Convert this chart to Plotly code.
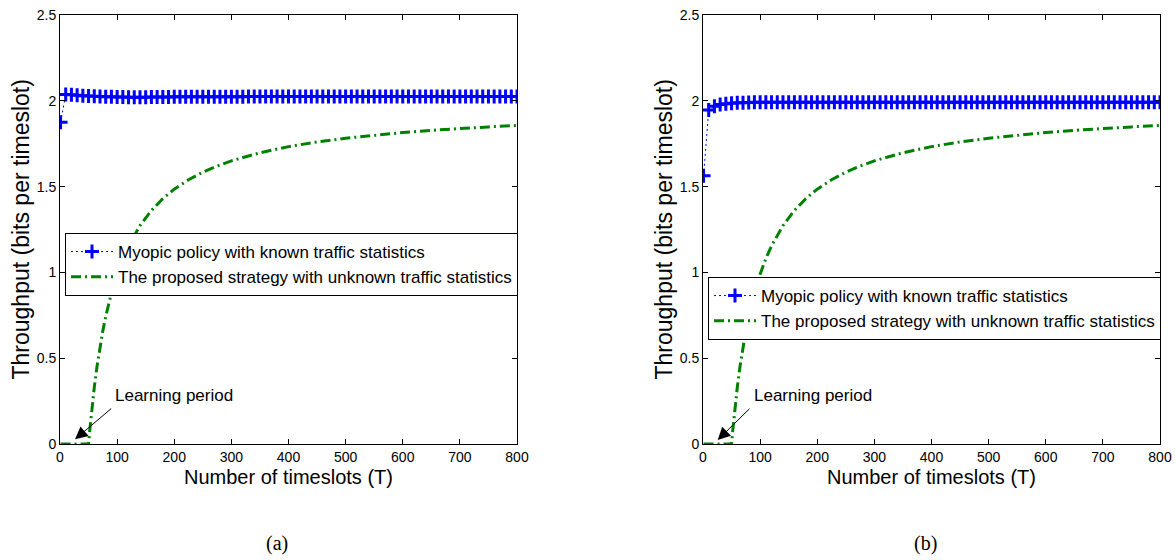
import plotly.graph_objects as go

# ---------------- data ----------------
T_myopic = [1] + list(range(10, 801, 10))

myopic_a = [1.875,
    2.036, 2.035, 2.032, 2.030, 2.028, 2.026, 2.025, 2.024, 2.023, 2.022,
    2.022, 2.021, 2.021, 2.021, 2.021, 2.022, 2.022, 2.022, 2.022, 2.023,
    2.023, 2.023, 2.023, 2.023, 2.024, 2.024, 2.024, 2.024, 2.024, 2.024,
    2.024, 2.024, 2.025, 2.025, 2.025, 2.025, 2.025, 2.025, 2.025, 2.025,
    2.025, 2.025, 2.025, 2.025, 2.025, 2.025, 2.025, 2.025, 2.025, 2.025,
    2.025, 2.025, 2.025, 2.025, 2.025, 2.025, 2.025, 2.025, 2.025, 2.025,
    2.025, 2.025, 2.025, 2.025, 2.025, 2.025, 2.025, 2.025, 2.025, 2.025,
    2.025, 2.025, 2.025, 2.025, 2.025, 2.025, 2.025, 2.025, 2.025, 2.025]

myopic_b = [1.563,
    1.946, 1.968, 1.978, 1.983, 1.986, 1.988, 1.989, 1.990, 1.991, 1.991,
    1.991, 1.992, 1.992, 1.992, 1.992, 1.992, 1.992, 1.992, 1.992, 1.992,
    1.992, 1.992, 1.992, 1.992, 1.992, 1.992, 1.992, 1.992, 1.992, 1.992,
    1.992, 1.992, 1.992, 1.992, 1.992, 1.992, 1.992, 1.992, 1.992, 1.992,
    1.992, 1.992, 1.992, 1.992, 1.992, 1.992, 1.992, 1.992, 1.992, 1.992,
    1.992, 1.992, 1.992, 1.992, 1.992, 1.992, 1.992, 1.992, 1.992, 1.992,
    1.992, 1.992, 1.992, 1.992, 1.992, 1.992, 1.992, 1.992, 1.992, 1.992,
    1.992, 1.992, 1.992, 1.992, 1.992, 1.992, 1.992, 1.992, 1.992, 1.992]

T_proposed = [1, 10, 20, 30, 40, 50, 52, 55, 60, 65, 70, 75, 80, 90, 100, 110,
              120, 140, 160, 180, 200, 225, 250, 275, 300, 350, 400, 450, 500,
              550, 600, 650, 700, 750, 800]
proposed = [0, 0, 0, 0, 0, 0, 0.076, 0.18, 0.33, 0.457, 0.566, 0.66, 0.743,
            0.88, 0.99, 1.08, 1.155, 1.273, 1.361, 1.43, 1.485, 1.54, 1.584,
            1.62, 1.65, 1.697, 1.733, 1.76, 1.782, 1.80, 1.815, 1.828, 1.839,
            1.848, 1.856]

name_myopic = "Myopic policy with known traffic statistics"
name_proposed = "The proposed strategy with unknown traffic statistics"
x_ticks = [0, 100, 200, 300, 400, 500, 600, 700, 800]
y_ticks = [0, 0.5, 1, 1.5, 2, 2.5]
y_ticklabels = ["0", "0.5", "1", "1.5", "2", "2.5"]
x_title = "Number of timeslots (T)"
y_title = "Throughput (bits per timeslot)"
captions = ["(a)", "(b)"]
note = "Learning period"

# ---------------- figure ----------------
W, H = 1175, 560
BLUE = "#0000FF"
GREEN = "#008000"
FONT = "Liberation Sans, Arial, sans-serif"

fig = go.Figure()

for i, (myo, leg) in enumerate([(myopic_a, "legend"), (myopic_b, "legend2")]):
    xa = "x" if i == 0 else "x2"
    ya = "y" if i == 0 else "y2"
    fig.add_trace(go.Scatter(
        x=T_myopic, y=myo, name=name_myopic, mode="lines+markers",
        line=dict(color=BLUE, width=1, dash="2px,3px"),
        marker=dict(symbol="cross-thin", size=10, color=BLUE,
                    line=dict(color=BLUE, width=3)),
        xaxis=xa, yaxis=ya, legend=leg, cliponaxis=True))
    fig.add_trace(go.Scatter(
        x=T_proposed, y=proposed, name=name_proposed, mode="lines",
        line=dict(color=GREEN, width=3, dash="10px,4px,2px,4px"),
        xaxis=xa, yaxis=ya, legend=leg))

ydom = [116 / H, 545 / H]
xdoms = [[60 / W, 517 / W], [703 / W, 1160 / W]]

axis_common = dict(showline=True, linecolor="black", linewidth=1,
                   mirror="ticks", ticks="inside", ticklen=5,
                   tickcolor="black", showgrid=False, zeroline=False,
                   tickfont=dict(family=FONT, size=14, color="black"),
                   automargin=False)

fig.update_layout(
    width=W, height=H,
    margin=dict(l=0, r=0, t=0, b=0),
    paper_bgcolor="white", plot_bgcolor="white",
    font=dict(family=FONT, color="black"),
    xaxis=dict(domain=xdoms[0], range=[0, 800], tickvals=x_ticks,
               anchor="y", **axis_common),
    yaxis=dict(domain=ydom, range=[0, 2.5], tickvals=y_ticks,
               ticktext=y_ticklabels, anchor="x", **axis_common),
    xaxis2=dict(domain=xdoms[1], range=[0, 800], tickvals=x_ticks,
                anchor="y2", **axis_common),
    yaxis2=dict(domain=ydom, range=[0, 2.5], tickvals=y_ticks,
                ticktext=y_ticklabels, anchor="x2", **axis_common),
    legend=dict(x=65 / W, y=1 - 233 / H, xanchor="left", yanchor="top",
                bgcolor="white", bordercolor="black", borderwidth=1,
                font=dict(family=FONT, size=17, color="black"),
                itemwidth=42, tracegroupgap=0),
    legend2=dict(x=708 / W, y=1 - 277 / H, xanchor="left", yanchor="top",
                 bgcolor="white", bordercolor="black", borderwidth=1,
                 font=dict(family=FONT, size=17, color="black"),
                 itemwidth=42, tracegroupgap=0),
    showlegend=True,
)

annotations = []
centers = [(60 + 517) / 2, (703 + 1160) / 2]
ytitle_x = [20, 663]
for i in range(2):
    cx = centers[i]
    annotations.append(dict(xref="paper", yref="paper", x=cx / W, y=1 - 477 / H,
                            text=x_title, showarrow=False, xanchor="center",
                            yanchor="middle",
                            font=dict(family=FONT, size=20, color="black")))
    annotations.append(dict(xref="paper", yref="paper", x=ytitle_x[i] / W,
                            y=1 - 229.5 / H, text=y_title, textangle=-90,
                            showarrow=False, xanchor="center", yanchor="middle",
                            font=dict(family=FONT, size=23, color="black")))
    annotations.append(dict(xref="paper", yref="paper", x=(277 + i * 648) / W,
                            y=1 - 543 / H, text=captions[i], showarrow=False,
                            xanchor="center", yanchor="middle",
                            font=dict(family="Liberation Serif, Times New Roman, serif",
                                      size=20, color="black")))

# learning period labels and arrows
xr = ["x", "x2"]
yr = ["y", "y2"]
text_pos = [(93, 0.28), (85, 0.28)]
heads = [(26.3, 0.027), (25.7, 0.023)]
tails = [(92.3, 0.214), (84, 0.214)]
for i in range(2):
    annotations.append(dict(xref=xr[i], yref=yr[i], x=text_pos[i][0],
                            y=text_pos[i][1], text=note, showarrow=False,
                            xanchor="left", yanchor="middle",
                            font=dict(family=FONT, size=17, color="black")))
    annotations.append(dict(xref=xr[i], yref=yr[i], x=heads[i][0], y=heads[i][1],
                            axref=xr[i], ayref=yr[i], ax=tails[i][0],
                            ay=tails[i][1], text="", showarrow=True,
                            arrowhead=2, arrowsize=2.5, arrowwidth=1,
                            arrowcolor="black", standoff=0, startstandoff=0))

fig.update_layout(annotations=annotations)

fig.write_html("out.html")
